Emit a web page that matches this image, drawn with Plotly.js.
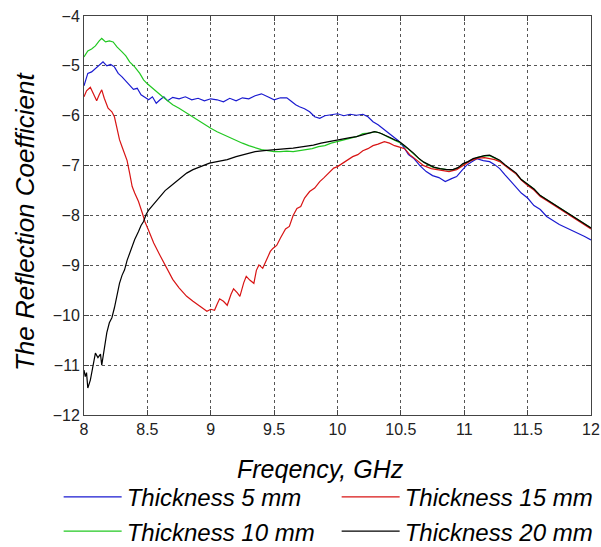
<!DOCTYPE html>
<html>
<head>
<meta charset="utf-8">
<script src="https://cdn.plot.ly/plotly-3.0.1.min.js"></script>
<style>html,body{margin:0;padding:0;background:#fff;}#chart{width:601px;height:547px;}</style>
</head>
<body>
<div id="chart"></div>
<script>
// Thickness 5 mm
const freq5 = [8.00,8.03,8.06,8.09,8.12,8.15,8.18,8.21,8.24,8.27,8.30,8.33,8.36,8.39,8.42,8.45,8.48,8.51,8.54,8.57,8.60,8.63,8.66,8.70,8.75,8.80,8.85,8.90,8.95,9.00,9.05,9.10,9.15,9.20,9.25,9.30,9.35,9.40,9.45,9.50,9.55,9.60,9.63,9.67,9.70,9.74,9.78,9.82,9.86,9.90,9.95,10.00,10.05,10.10,10.15,10.20,10.24,10.28,10.32,10.36,10.40,10.44,10.48,10.52,10.56,10.60,10.65,10.70,10.75,10.80,10.85,10.90,10.94,10.98,11.02,11.06,11.10,11.15,11.20,11.24,11.28,11.32,11.36,11.40,11.45,11.50,11.55,11.60,11.65,11.70,11.75,11.80,11.85,11.90,11.95,12.00];
const refl5 = [-5.40,-5.15,-5.12,-5.05,-4.98,-4.92,-5.00,-4.97,-5.02,-5.15,-5.22,-5.30,-5.40,-5.47,-5.45,-5.58,-5.63,-5.68,-5.62,-5.75,-5.68,-5.62,-5.70,-5.63,-5.66,-5.62,-5.68,-5.65,-5.70,-5.66,-5.68,-5.72,-5.65,-5.70,-5.64,-5.66,-5.60,-5.56,-5.62,-5.68,-5.64,-5.64,-5.70,-5.78,-5.82,-5.86,-5.92,-6.02,-6.05,-6.00,-5.98,-5.96,-6.00,-5.97,-5.99,-5.97,-6.02,-6.12,-6.18,-6.26,-6.35,-6.42,-6.50,-6.62,-6.78,-6.85,-7.00,-7.12,-7.20,-7.24,-7.32,-7.26,-7.22,-7.10,-6.99,-6.92,-6.86,-6.90,-6.92,-6.98,-7.06,-7.18,-7.30,-7.40,-7.55,-7.65,-7.80,-7.88,-8.02,-8.10,-8.18,-8.24,-8.30,-8.35,-8.42,-8.49];

// Thickness 10 mm
const freq10 = [8.00,8.03,8.06,8.09,8.12,8.14,8.17,8.20,8.23,8.26,8.30,8.33,8.36,8.40,8.44,8.47,8.50,8.54,8.58,8.62,8.66,8.70,8.75,8.80,8.85,8.90,8.95,9.00,9.05,9.10,9.15,9.20,9.25,9.30,9.35,9.40,9.45,9.50,9.55,9.60,9.65,9.70,9.75,9.80,9.85,9.90,9.95,10.00,10.05,10.10,10.15,10.20,10.25,10.30,10.35,10.40,10.45,10.50,10.55,10.60,10.65,10.70,10.75,10.80,10.85,10.90,10.95,11.00,11.05,11.10,11.15,11.20,11.25,11.30,11.35,11.40,11.45,11.50,11.55,11.60,11.65,11.70,11.75,11.80,11.85,11.90,11.95,12.00];
const refl10 = [-4.82,-4.70,-4.66,-4.60,-4.50,-4.45,-4.52,-4.50,-4.52,-4.62,-4.72,-4.80,-4.92,-5.02,-5.15,-5.28,-5.36,-5.45,-5.55,-5.62,-5.70,-5.78,-5.85,-5.93,-6.02,-6.10,-6.18,-6.25,-6.32,-6.38,-6.44,-6.50,-6.55,-6.60,-6.64,-6.68,-6.70,-6.72,-6.72,-6.71,-6.72,-6.70,-6.68,-6.66,-6.62,-6.60,-6.55,-6.52,-6.48,-6.45,-6.42,-6.36,-6.35,-6.32,-6.36,-6.43,-6.49,-6.55,-6.65,-6.76,-6.88,-6.96,-7.03,-7.06,-7.08,-7.09,-7.05,-6.96,-6.90,-6.84,-6.81,-6.80,-6.86,-6.94,-7.05,-7.14,-7.28,-7.38,-7.47,-7.60,-7.68,-7.76,-7.84,-7.92,-8.00,-8.08,-8.16,-8.25];

// Thickness 15 mm
const freq15 = [8.00,8.02,8.05,8.08,8.10,8.12,8.14,8.16,8.19,8.22,8.24,8.26,8.28,8.30,8.32,8.34,8.36,8.38,8.40,8.43,8.46,8.48,8.51,8.55,8.60,8.65,8.70,8.75,8.81,8.86,8.92,8.97,9.00,9.03,9.05,9.07,9.10,9.13,9.16,9.18,9.21,9.23,9.26,9.28,9.31,9.34,9.36,9.38,9.41,9.44,9.47,9.49,9.52,9.55,9.59,9.62,9.65,9.68,9.71,9.74,9.78,9.82,9.86,9.89,9.93,9.97,10.00,10.04,10.08,10.12,10.16,10.20,10.24,10.28,10.32,10.37,10.41,10.45,10.49,10.53,10.57,10.62,10.68,10.74,10.81,10.88,10.94,10.99,11.05,11.11,11.16,11.20,11.24,11.28,11.32,11.36,11.41,11.45,11.50,11.55,11.60,11.65,11.70,11.75,11.80,11.85,11.90,11.95,12.00];
const refl15 = [-5.62,-5.50,-5.43,-5.60,-5.70,-5.58,-5.48,-5.65,-5.85,-5.92,-6.02,-6.25,-6.48,-6.62,-6.75,-6.90,-7.15,-7.42,-7.55,-7.72,-7.95,-8.12,-8.30,-8.55,-8.80,-9.05,-9.28,-9.45,-9.62,-9.72,-9.83,-9.92,-9.88,-9.90,-9.78,-9.67,-9.72,-9.80,-9.58,-9.47,-9.55,-9.62,-9.35,-9.22,-9.30,-9.36,-9.10,-8.99,-9.06,-8.88,-8.72,-8.66,-8.60,-8.45,-8.27,-8.22,-8.00,-7.86,-7.82,-7.65,-7.52,-7.45,-7.32,-7.25,-7.15,-7.05,-7.02,-6.95,-6.88,-6.82,-6.78,-6.70,-6.66,-6.60,-6.57,-6.52,-6.55,-6.60,-6.63,-6.66,-6.78,-6.88,-7.00,-7.06,-7.09,-7.12,-7.08,-7.00,-6.90,-6.85,-6.84,-6.86,-6.88,-6.92,-7.00,-7.08,-7.17,-7.29,-7.40,-7.49,-7.62,-7.70,-7.78,-7.86,-7.94,-8.02,-8.10,-8.18,-8.27];

// Thickness 20 mm
const freq20 = [8.00,8.01,8.02,8.03,8.05,8.07,8.09,8.11,8.13,8.14,8.16,8.18,8.20,8.22,8.24,8.26,8.28,8.30,8.32,8.34,8.36,8.38,8.40,8.43,8.45,8.47,8.49,8.51,8.54,8.57,8.60,8.64,8.68,8.72,8.76,8.81,8.86,8.92,8.99,9.05,9.13,9.20,9.28,9.35,9.42,9.49,9.55,9.60,9.65,9.70,9.75,9.81,9.87,9.93,9.99,10.05,10.10,10.15,10.20,10.25,10.29,10.33,10.37,10.41,10.45,10.49,10.53,10.57,10.60,10.64,10.68,10.72,10.76,10.81,10.86,10.91,10.95,10.99,11.03,11.07,11.12,11.16,11.20,11.24,11.28,11.32,11.36,11.41,11.45,11.50,11.55,11.60,11.65,11.70,11.75,11.80,11.85,11.90,11.95,12.00];
const refl20 = [-11.10,-11.23,-11.15,-11.46,-11.30,-11.00,-10.76,-10.85,-10.78,-11.00,-10.70,-10.35,-10.15,-10.05,-9.85,-9.60,-9.36,-9.20,-9.09,-8.90,-8.75,-8.62,-8.48,-8.32,-8.20,-8.12,-7.98,-7.89,-7.80,-7.69,-7.60,-7.50,-7.42,-7.34,-7.25,-7.15,-7.08,-7.02,-6.95,-6.92,-6.88,-6.82,-6.77,-6.72,-6.70,-6.69,-6.68,-6.66,-6.65,-6.63,-6.61,-6.59,-6.55,-6.52,-6.48,-6.45,-6.44,-6.42,-6.38,-6.34,-6.32,-6.34,-6.38,-6.43,-6.48,-6.52,-6.60,-6.68,-6.75,-6.85,-6.93,-6.98,-7.03,-7.06,-7.08,-7.08,-7.04,-6.96,-6.92,-6.86,-6.82,-6.80,-6.79,-6.84,-6.89,-6.98,-7.06,-7.15,-7.28,-7.38,-7.47,-7.60,-7.68,-7.76,-7.84,-7.92,-8.00,-8.08,-8.16,-8.25];

const seriesNames = ['Thickness 5 mm','Thickness 10 mm','Thickness 15 mm','Thickness 20 mm'];
const xTitle = 'Freqency, GHz';
const yTitle = 'The Reflection Coefficient';
const xTicks = [8,8.5,9,9.5,10,10.5,11,11.5,12];
const xTickText = ['8','8.5','9','9.5','10','10.5','11','11.5','12'];
const yTicks = [-12,-11,-10,-9,-8,-7,-6,-5,-4];

const fontFam = '"Liberation Sans", Arial, sans-serif';
function tr(x, y, name, color, rank) {
  return {x: x, y: y, name: name, type: 'scatter', mode: 'lines',
    line: {color: color, width: 1.2}, legendrank: rank};
}
const data = [
  tr(freq5, refl5, seriesNames[0], '#1a1ad0', 1),
  tr(freq10, refl10, seriesNames[1], '#22c822', 3),
  tr(freq15, refl15, seriesNames[2], '#d81414', 2),
  tr(freq20, refl20, seriesNames[3], '#000000', 4)
];
const axisCommon = {
  showline: true, linecolor: '#444', linewidth: 1, mirror: 'ticks',
  ticks: 'inside', ticklen: 5, tickcolor: '#444',
  showgrid: true, gridcolor: '#555', griddash: 'dot', gridwidth: 1,
  zeroline: false, tickfont: {family: fontFam, size: 16, color: '#222'}
};
const layout = {
  width: 601, height: 547,
  margin: {l: 84, r: 10, t: 16, b: 132, autoexpand: false},
  paper_bgcolor: '#fff', plot_bgcolor: '#fff',
  showlegend: true,
  xaxis: Object.assign({}, axisCommon, {
    range: [8, 12], tickvals: xTicks, ticktext: xTickText
  }),
  yaxis: Object.assign({}, axisCommon, {
    range: [-12, -4], tickvals: yTicks
  }),
  annotations: [
    {text: xTitle, xref: 'paper', yref: 'paper', x: 0.4655, y: -0.135,
     xanchor: 'center', yanchor: 'middle', showarrow: false,
     font: {family: fontFam, size: 25, color: '#000', style: 'italic'}},
    {text: yTitle, xref: 'paper', yref: 'paper', x: -0.1164, y: 0.486,
     xanchor: 'center', yanchor: 'middle', showarrow: false, textangle: -90,
     font: {family: fontFam, size: 26, color: '#000', style: 'italic'}}
  ],
  legend: {
    orientation: 'h', x: -0.05, xanchor: 'left', y: -0.15, yanchor: 'top',
    entrywidth: 205, entrywidthmode: 'pixels', itemwidth: 58,
    font: {family: fontFam, size: 24, color: '#000', style: 'italic'},
    bgcolor: 'rgba(0,0,0,0)', traceorder: 'normal', tracegroupgap: 0
  }
};
Plotly.newPlot('chart', data, layout, {displayModeBar: false, staticPlot: true});
</script>
</body>
</html>
